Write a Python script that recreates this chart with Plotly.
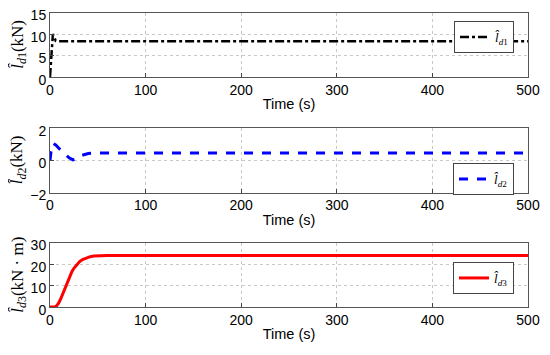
import plotly.graph_objects as go

# ---- data ----
t1 = [0, 1, 2, 3, 4, 5, 6, 8, 500]
l_d1 = [0, 4, 8, 10, 9.4, 8.7, 8.4, 8.3, 8.3]

t2 = [0, 1, 3, 6, 10, 15, 20, 24, 28, 33, 40, 50, 500]
l_d2 = [0, 0.5, 1.05, 0.95, 0.7, 0.4, 0.15, 0.02, 0.1, 0.3, 0.42, 0.45, 0.45]

t3 = [0, 5, 7, 9, 11, 13, 15, 17, 19, 21, 23, 25, 28, 31, 34, 38, 42, 46, 50, 55, 60, 70, 500]
l_d3 = [0, 0, 0.6, 1.8, 3.6, 5.8, 8.3, 10.6, 12.8, 14.8, 16.5, 18.0, 19.8, 21.1, 22.1, 22.9, 23.4, 23.7, 23.85, 23.95, 24, 24, 24]

x_ticks = [0, 100, 200, 300, 400, 500]
y1_ticks = [0, 5, 10, 15]
y2_ticks = [-2, 0, 2]
y3_ticks = [0, 10, 20, 30]

names = ["<i>l̂</i><sub><i>d</i>1</sub>", "<i>l̂</i><sub><i>d</i>2</sub>", "<i>l̂</i><sub><i>d</i>3</sub>"]
ytitles = ["<i>l̂</i><sub><i>d</i>1</sub>(kN)", "<i>l̂</i><sub><i>d</i>2</sub>(kN)", "<i>l̂</i><sub><i>d</i>3</sub>(kN · m)"]

# page body has an 8px margin; figure sits at (8, 8)
OX, OY = 8, 8
W, H = 534, 339


def px_x(x):
    return (x - OX) / W


def px_y(y):
    return 1 - (y - OY) / H


fig = go.Figure()

fig.add_trace(go.Scatter(x=t1, y=l_d1, mode="lines", name=names[0],
                         line=dict(color="black", width=2.5, dash="dashdot"),
                         xaxis="x", yaxis="y", legend="legend"))
fig.add_trace(go.Scatter(x=t2, y=l_d2, mode="lines", name=names[1],
                         line=dict(color="#0000ff", width=3, dash="dash"),
                         xaxis="x2", yaxis="y2", legend="legend2"))
fig.add_trace(go.Scatter(x=t3, y=l_d3, mode="lines", name=names[2],
                         line=dict(color="#ff0000", width=3),
                         xaxis="x3", yaxis="y3", legend="legend3"))

panels = [(12.5, 77, y1_ticks), (128, 192.5, y2_ticks), (242.5, 307, y3_ticks)]
tickfont = dict(family="Liberation Sans, Arial", size=14, color="black")

layout = dict(width=W, height=H, margin=dict(l=0, r=0, t=0, b=0),
              paper_bgcolor="white", plot_bgcolor="white", showlegend=True)

annotations = []
for i, (top, bot, yt) in enumerate(panels):
    sfx = "" if i == 0 else str(i + 1)
    ax = dict(domain=[px_x(50), px_x(528)], range=[0, 500], tickvals=x_ticks,
              showline=True, mirror=True, linecolor="#555555", linewidth=1,
              ticks="inside", ticklen=4, tickcolor="#444444",
              showgrid=True, gridcolor="#c8c8c8", griddash="dot", gridwidth=1,
              zeroline=False, tickfont=tickfont, automargin=False,
              title=dict(text="Time (s)", font=dict(family="Liberation Sans, Arial", size=14.5, color="black"),
                         standoff=2),
              anchor="y" + sfx)
    ay = dict(domain=[px_y(bot), px_y(top)], range=[yt[0], yt[-1]], tickvals=yt,
              showline=True, mirror=True, linecolor="#555555", linewidth=1,
              ticks="inside", ticklen=4, tickcolor="#444444",
              showgrid=True, gridcolor="#c8c8c8", griddash="dot", gridwidth=1,
              zeroline=False, tickfont=tickfont, automargin=False,
              ticklabeloverflow="allow", ticklabelshift=3,
              anchor="x" + sfx)
    layout["xaxis" + sfx] = ax
    layout["yaxis" + sfx] = ay
    annotations.append(dict(text=ytitles[i], textangle=-90, showarrow=False,
                            xref="paper", yref="paper", x=px_x(18), y=px_y((top + bot) / 2),
                            xanchor="center", yanchor="middle",
                            font=dict(family="Liberation Serif, Times New Roman", size=17, color="black")))

leg_tops = [21, 163, 262]
for i, top in enumerate(leg_tops):
    key = "legend" if i == 0 else "legend" + str(i + 1)
    layout[key] = dict(x=px_x(514), xanchor="right", y=px_y(top), yanchor="top",
                       bgcolor="white", bordercolor="#444444", borderwidth=1,
                       font=dict(family="Liberation Serif, Times New Roman", size=13, color="black"),
                       itemwidth=30, tracegroupgap=0)

layout["annotations"] = annotations
fig.update_layout(**layout)
fig.write_html("out.html")
